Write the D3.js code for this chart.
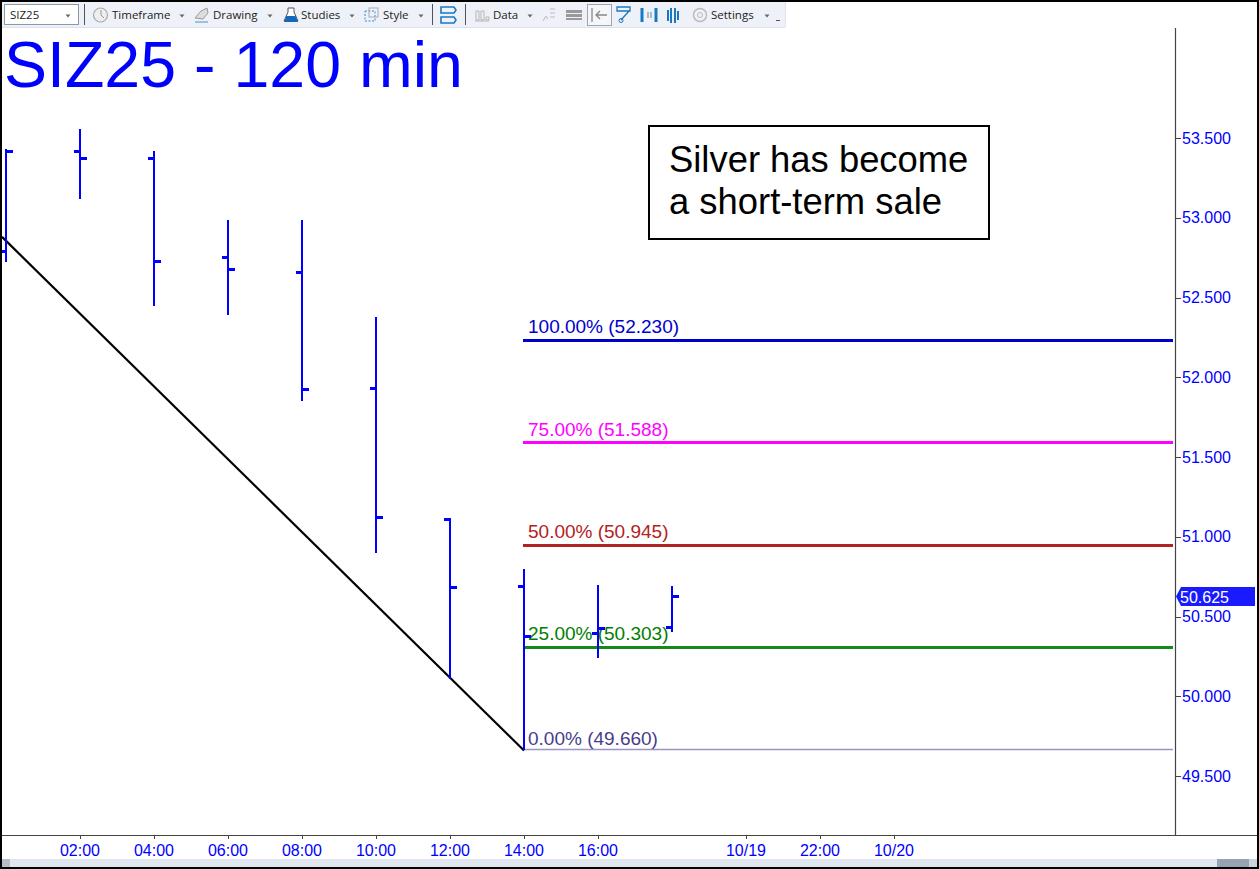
<!DOCTYPE html>
<html><head><meta charset="utf-8">
<script src="https://cdnjs.cloudflare.com/ajax/libs/d3/7.9.0/d3.min.js"></script>
<style>html,body{margin:0;padding:0;background:#fff;overflow:hidden}svg{display:block}text{font-family:"Liberation Sans",Arial,sans-serif}</style>
</head><body><svg id="c" width="1259" height="869"></svg>
<script>
const barIndex=[0,1,2,3,4,5,6,7,8,9];
const opens =[52.79,53.42,53.375,52.755,52.66,51.93,51.11,50.69,50.395,50.435];
const highs =[53.43,53.556,53.42,52.985,52.985,52.38,51.12,50.80,50.70,50.69];
const lows  =[52.72,53.12,52.445,52.39,51.85,50.90,50.11,49.66,50.24,50.405];
const closes=[53.42,53.375,52.73,52.68,51.925,51.125,50.685,50.38,50.43,50.63];
const priceTicks=[53.5,53,52.5,52,51.5,51,50.5,50,49.5];
const timeTickIndex=[1,2,3,4,5,6,7,8,10,11,12];
const timeTickLabels=["02:00","04:00","06:00","08:00","10:00","12:00","14:00","16:00","10/19","22:00","10/20"];
const fibLabels=["100.00%","75.00%","50.00%","25.00%","0.00%"];
const fibValues=[52.230,51.588,50.945,50.303,49.660];
const fibColors=["#0000cd","#ff00ff","#b22222","#008000","#483d8b"];
const fibLineColors=["#0000cd","#ff00ff","#b22222","#168a16","#9a94c4"];
const fibWidths=[3,3,3,3,1.6];
const trendIdx=[-0.054,7];
const trendPrice=[52.88,49.66];
const lastPrice=50.625;
const blue="#0000ff";

const svg=d3.select("#c");
const x=d3.scaleLinear().domain([0,1]).range([6,80]);
const y=d3.scaleLinear().domain([53.5,49.5]).range([138,776]);
const px=v=>Math.round(v);

// fib lines
const fibG=svg.append("g");
fibValues.forEach((v,i)=>{
  fibG.append("line").attr("x1",523).attr("x2",1173).attr("y1",px(y(v))-.5).attr("y2",px(y(v))-.5)
    .attr("stroke",fibLineColors[i]).attr("stroke-width",fibWidths[i]);
});
// trend line
svg.append("line").attr("x1",x(trendIdx[0])).attr("y1",y(trendPrice[0])).attr("x2",x(trendIdx[1])).attr("y2",y(trendPrice[1]))
  .attr("stroke","#000").attr("stroke-width",2.2);
// bars
const bars=svg.append("g").attr("shape-rendering","crispEdges").selectAll("g").data(barIndex).join("g");
bars.append("line").attr("x1",d=>px(x(d))).attr("x2",d=>px(x(d))).attr("y1",d=>y(highs[d])).attr("y2",d=>y(lows[d])).attr("stroke",blue).attr("stroke-width",2);
bars.append("line").attr("x1",d=>px(x(d))-6).attr("x2",d=>px(x(d))).attr("y1",d=>px(y(opens[d]))).attr("y2",d=>px(y(opens[d]))).attr("stroke",blue).attr("stroke-width",3);
bars.append("line").attr("x1",d=>px(x(d))).attr("x2",d=>px(x(d))+7).attr("y1",d=>px(y(closes[d]))).attr("y2",d=>px(y(closes[d]))).attr("stroke",blue).attr("stroke-width",3);
// fib labels
const fibLabelDy=[-8,-7,-8,-8,-5];
fibValues.forEach((v,i)=>{
  fibG.append("text").attr("x",528).attr("y",y(v)+fibLabelDy[i]).attr("font-size",19).attr("fill",fibColors[i])
    .text(`${fibLabels[i]} (${v.toFixed(3)})`);
});
// title
svg.append("text").attr("x",4).attr("y",87).attr("font-size",64.5).attr("fill",blue).text("SIZ25 - 120 min");
// note
svg.append("rect").attr("x",649).attr("y",126).attr("width",340).attr("height",113).attr("fill","#fff").attr("stroke","#000").attr("stroke-width",2);
svg.append("text").attr("x",669).attr("y",172).attr("font-size",36.4).attr("fill","#000").text("Silver has become");
svg.append("text").attr("x",669).attr("y",214).attr("font-size",36.4).attr("fill","#000").text("a short-term sale");

// y axis
const axisC="#444";
const yA=svg.append("g");
yA.append("line").attr("x1",1175.5).attr("x2",1175.5).attr("y1",28).attr("y2",835).attr("stroke",axisC).attr("stroke-width",1.2);
priceTicks.forEach(t=>{
  yA.append("line").attr("x1",1176).attr("x2",1181).attr("y1",px(y(t))+.5).attr("y2",px(y(t))+.5).attr("stroke",axisC);
  yA.append("text").attr("x",1182).attr("y",y(t)+5.5).attr("font-size",16).attr("fill",blue).text(t.toFixed(3));
});
const ly=y(lastPrice);
svg.append("path").attr("d",`M1176 ${ly}L1181 ${ly-9.5}H1255V${ly+9.5}H1181Z`).attr("fill","#1a1aff");
svg.append("text").attr("x",1180).attr("y",ly+6).attr("font-size",16).attr("fill","#fff").text(lastPrice.toFixed(3));

// x axis
const xA=svg.append("g");
xA.append("line").attr("x1",2).attr("x2",1257).attr("y1",835.5).attr("y2",835.5).attr("stroke",axisC).attr("stroke-width",1.2);
timeTickIndex.forEach((t,i)=>{
  xA.append("line").attr("x1",px(x(t))+.5).attr("x2",px(x(t))+.5).attr("y1",836).attr("y2",839).attr("stroke",axisC);
  xA.append("text").attr("x",x(t)).attr("y",856).attr("text-anchor","middle").attr("font-size",16).attr("fill",blue).text(timeTickLabels[i]);
});
// scrollbar
svg.append("rect").attr("x",2).attr("y",859).attr("width",1255).attr("height",8).attr("fill","#e1e7f0");
svg.append("rect").attr("x",2).attr("y",859).attr("width",8).attr("height",8).attr("fill","#b9bec6");
svg.append("rect").attr("x",1217).attr("y",859).attr("width",32).attr("height",8).attr("fill","#97a3b3");
svg.append("rect").attr("x",1249).attr("y",859).attr("width",8).attr("height",8).attr("fill","#cdd3dc");

// toolbar
const tb=svg.append("g");
tb.append("rect").attr("x",2).attr("y",2).attr("width",783).attr("height",25).attr("fill","#eef2f8");
tb.append("line").attr("x1",2).attr("x2",785).attr("y1",27.5).attr("y2",27.5).attr("stroke","#dde3ec");
tb.append("line").attr("x1",785.5).attr("x2",785.5).attr("y1",2).attr("y2",27).attr("stroke","#dde3ec");
tb.append("rect").attr("x",4.5).attr("y",4.5).attr("width",74).attr("height",20).attr("fill","#fff").attr("stroke","#8c9aa8");
const tbText=(s,xp)=>tb.append("text").attr("x",xp).attr("y",19).style("font-family","'Open Sans',sans-serif").attr("font-size",11.5).attr("fill","#222").text(s);
tbText("SIZ25",10);tbText("Timeframe",112);tbText("Drawing",213);tbText("Studies",301);tbText("Style",383);tbText("Data",493);tbText("Settings",711);
[68,182,270,352,421,530,767].forEach(a=>tb.append("path").attr("d",`M${a-2.5} 14.5h5l-2.5 3z`).attr("fill","#666"));
tb.append("path").attr("d","M776 20h4v1h-4z").attr("fill","#555");
[84.5,432.5,465.5].forEach(s=>tb.append("line").attr("x1",s).attr("x2",s).attr("y1",4).attr("y2",25).attr("stroke","#4a5560"));
// icons
tb.append("circle").attr("cx",100.5).attr("cy",15).attr("r",7).attr("fill","#eee").attr("stroke","#aaa").attr("stroke-width",1.2);
tb.append("path").attr("d","M101 10v5l3 3").attr("fill","none").attr("stroke","#999");
tb.append("path").attr("d","M195 18l6-7 6-3 1 5-5 6z").attr("fill","#ddd").attr("stroke","#999");
tb.append("line").attr("x1",195).attr("x2",208).attr("y1",22).attr("y2",22).attr("stroke","#4a90d0");
tb.append("path").attr("d","M288 8h6v4l4 9h-14l4-9z").attr("fill","#fff").attr("stroke","#555");
tb.append("path").attr("d","M286.5 16h9l2.5 6h-14z").attr("fill","#1668b8");
tb.append("rect").attr("x",365).attr("y",11).attr("width",10).attr("height",10).attr("fill","none").attr("stroke","#2a90e0").attr("stroke-dasharray","2 1.5");
tb.append("rect").attr("x",369).attr("y",8).attr("width",9).attr("height",9).attr("fill","none").attr("stroke","#aaa");
tb.append("path").attr("d","M441 7h13l2 3-2 3h-13zM441 17h13l2 3-2 3h-13z").attr("fill","none").attr("stroke","#1a78c2").attr("stroke-width",1.6);
tb.append("path").attr("d","M475 21h14M476 11h3v9h-3zM481 11h3v9h-3zM486 17h3v3h-3z").attr("fill","none").attr("stroke","#b5b5b5");
tb.append("path").attr("d","M543 21l3-5 2 3M550 9h5M550 13h5M550 17h5").attr("fill","none").attr("stroke","#bbb");
tb.append("path").attr("d","M566 10h16v3h-16zM566 14h16v3h-16zM566 18h16v2h-16z").attr("fill","#999");
tb.append("rect").attr("x",587.5).attr("y",4.5).attr("width",24).attr("height",21).attr("fill","#f4f6fa").attr("stroke","#9aa6b2");
tb.append("path").attr("d","M592 8v14M607 15h-11M600 11l-4 4 4 4").attr("fill","none").attr("stroke","#888").attr("stroke-width",1.3);
tb.append("path").attr("d","M617 7h13v4h-13zM630 10l-9 10").attr("fill","none").attr("stroke","#1a78c2").attr("stroke-width",1.3);
tb.append("circle").attr("cx",621).attr("cy",20.5).attr("r",2).attr("fill","none").attr("stroke","#1a78c2");
tb.append("path").attr("d","M642 8v14M656 8v14").attr("stroke","#1a78c2").attr("stroke-width",3);
tb.append("path").attr("d","M648 12v6M651 12v6").attr("stroke","#8ab").attr("stroke-width",1.5);
tb.append("path").attr("d","M668 10v11M671 8v15M675 8v15M678 11v9").attr("stroke","#1a78c2").attr("stroke-width",2);
tb.append("circle").attr("cx",700).attr("cy",15).attr("r",6.5).attr("fill","none").attr("stroke","#bbb").attr("stroke-width",1.5);
tb.append("circle").attr("cx",700).attr("cy",15).attr("r",2.5).attr("fill","none").attr("stroke","#bbb");
// window border
svg.append("rect").attr("x",1).attr("y",1).attr("width",1257).attr("height",867).attr("fill","none").attr("stroke","#000").attr("stroke-width",2);
</script></body></html>
